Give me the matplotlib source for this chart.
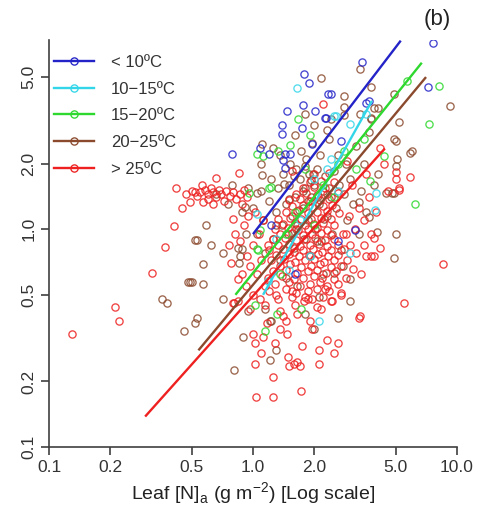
import matplotlib
matplotlib.use("Agg")
import matplotlib.pyplot as plt
from matplotlib.lines import Line2D
from matplotlib.ticker import FixedLocator, FixedFormatter, NullLocator

plt.rcParams['font.family'] = ['Liberation Sans', 'DejaVu Sans']

# ---------------- data ----------------
categories = ["< 10ºC", "10−15ºC", "15−20ºC", "20−25ºC", "> 25ºC"]
colors = ["#2323C8", "#33D6E8", "#2ED82E", "#8B4A2E", "#EE2020"]

blue_x = [3.42, 1.78, 1.88, 2.33, 2.40, 1.75, 1.46, 2.02, 2.25, 1.38, 1.38, 1.73, 3.70, 1.08, 1.20,
          0.79, 1.43, 1.52, 1.40, 1.43, 1.94, 2.70, 7.60, 7.20, 1.23, 3.15, 2.60, 2.27, 3.60, 1.60]
blue_y = [5.88, 5.18, 4.71, 4.19, 4.19, 3.73, 3.50, 3.50, 3.25, 3.00, 2.75, 2.92, 3.90, 2.37, 2.22,
          2.22, 2.22, 2.22, 2.08, 1.92, 2.47, 2.55, 7.20, 4.50, 1.05, 0.99, 0.88, 3.25, 3.80, 0.62]

cyan_x = [1.64, 2.50, 2.56, 3.00, 3.60, 3.00, 2.10, 3.95, 4.00, 2.00, 2.30, 1.70, 2.60, 1.90, 1.50,
          2.40, 1.30, 1.05, 1.18]
cyan_y = [4.45, 3.33, 3.33, 3.05, 3.40, 0.78, 0.38, 1.22, 1.47, 1.70, 1.90, 1.10, 1.50, 0.75, 0.65,
          2.10, 0.90, 1.18, 0.58]

green_x = [8.20, 7.30, 6.20, 5.70, 1.66, 1.05, 1.12, 1.52, 4.40, 3.75, 1.20, 1.22, 0.96, 1.08, 1.05,
           1.31, 1.14, 1.02, 1.06, 1.71, 1.33, 1.80, 2.20, 2.80, 3.20, 1.60, 2.00, 2.50, 3.50, 1.45,
           1.90, 2.60, 1.35]
green_y = [4.55, 3.05, 1.30, 4.80, 3.20, 2.22, 2.17, 2.45, 2.17, 1.67, 1.55, 1.57, 1.46, 0.99, 0.81,
           0.41, 0.34, 0.45, 0.80, 0.43, 2.30, 1.90, 1.60, 2.30, 1.90, 1.20, 1.05, 1.40, 2.60, 0.95,
           2.70, 2.00, 0.62]

brown_x = [0.36, 0.38, 0.48, 0.52, 0.46, 0.52, 0.53, 3.35, 2.15, 2.80, 3.80, 4.10, 4.90, 9.20, 5.20,
           4.90, 5.00, 6.00, 3.80, 4.10, 5.00, 4.90, 5.00, 4.05, 3.70, 3.30, 4.90, 5.90, 4.50, 4.80,
           2.80, 2.80, 3.90, 3.35, 3.80, 1.80, 1.11, 2.30, 0.79, 1.11, 1.05, 0.59, 0.53, 0.71, 0.88,
           0.91, 0.57, 0.57, 0.50, 0.71, 1.21, 0.89, 1.30, 1.15, 0.95, 0.81, 1.21, 0.49, 1.80, 2.10,
           3.00, 3.00, 2.60, 2.50, 2.00, 0.86, 0.84, 1.23, 5.10,
           1.00, 1.05, 1.10, 1.12, 1.15, 1.20, 1.22, 1.25, 1.30, 1.32, 1.35, 1.38, 1.40, 1.45, 1.48,
           1.50, 1.52, 1.55, 1.58, 1.60, 1.62, 1.65, 1.70, 1.72, 1.75, 1.78, 1.80, 1.82, 1.85, 1.88,
           1.90, 1.92, 1.95, 2.00, 2.02, 2.05, 2.10, 2.12, 2.15, 2.20, 2.25, 2.30, 2.35, 2.40, 2.45,
           2.50, 2.55, 2.60, 2.65, 2.70, 2.80, 2.85, 2.90, 3.00, 3.10, 3.20, 3.30, 3.40, 3.50, 3.60,
           3.70, 3.90, 1.35, 1.60, 2.00, 2.40, 1.25, 1.10, 0.95, 0.88, 0.92, 0.85, 1.45, 1.65, 2.20,
           2.75, 0.66, 0.75, 0.62,
           1.42, 1.58, 1.75, 1.92, 2.08, 1.30, 1.68, 1.86, 2.22, 1.50, 1.96, 2.36, 1.62, 1.80, 2.05]
brown_y = [0.48, 0.46, 0.57, 0.89, 0.34, 0.37, 0.39, 5.45, 4.95, 4.10, 4.50, 3.60, 4.20, 3.70, 3.10,
           2.60, 2.55, 2.30, 3.25, 1.80, 1.96, 1.46, 0.95, 0.97, 1.14, 1.33, 0.74, 2.25, 1.47, 1.47,
           3.65, 3.35, 3.60, 3.40, 3.20, 3.40, 2.47, 2.85, 1.60, 1.78, 1.46, 1.05, 0.89, 0.78, 0.81,
           1.26, 0.69, 0.56, 0.57, 0.48, 0.38, 0.32, 0.28, 0.43, 0.42, 0.225, 0.25, 0.57, 0.41, 0.49,
           0.47, 0.59, 0.39, 0.63, 0.35, 0.75, 0.82, 0.38, 2.10,
           1.25, 0.95, 1.50, 1.10, 0.78, 1.35, 1.70, 0.90, 1.20, 1.55, 0.72, 1.05, 1.80, 1.30, 0.95,
           1.60, 2.00, 1.15, 0.82, 1.40, 1.90, 1.05, 1.70, 2.30, 1.25, 0.90, 1.55, 2.10, 1.10, 1.80,
           0.75, 1.40, 2.50, 1.60, 1.00, 1.90, 1.30, 2.20, 0.88, 1.50, 1.75, 1.15, 2.60, 1.40, 0.95,
           1.85, 1.25, 2.20, 1.60, 0.80, 1.45, 2.00, 1.10, 1.70, 1.30, 2.40, 0.95, 1.50, 2.00, 1.20,
           2.80, 1.60, 2.20, 2.70, 3.00, 3.20, 2.35, 2.00, 1.55, 1.20, 0.95, 0.70, 0.60, 0.55, 0.62,
           0.68, 1.45, 1.30, 0.85,
           1.62, 1.75, 1.50, 1.68, 1.42, 1.05, 1.22, 1.35, 1.12, 1.38, 1.80, 1.55, 1.00, 1.95, 0.88]

red_x = [0.13, 0.21, 0.22, 0.32, 0.37, 0.41, 0.42, 0.49, 0.52,
         0.47, 0.50, 0.53, 0.55, 0.56, 0.58, 0.60, 0.60, 0.62, 0.64, 0.66, 0.68, 0.70, 0.72, 0.74,
         0.77, 0.80, 0.83, 0.86, 0.88, 0.90, 0.93, 0.64, 0.57, 0.45, 0.85, 0.66,
         0.82, 0.86, 0.90, 0.93, 0.95, 0.97, 1.00, 1.02, 1.05, 1.07, 1.10, 1.12, 1.15, 1.18, 0.88,
         0.78, 0.76, 0.80, 0.92, 1.00,
         1.32, 1.55, 1.78, 1.95, 2.20, 2.45,
         1.20, 1.45, 1.62, 1.85, 2.05, 2.35, 2.70,
         1.28, 1.50, 1.70, 1.90, 2.12, 2.30, 2.60,
         1.18, 1.38, 1.58, 1.75, 1.98, 2.18, 2.50, 2.85,
         1.25, 1.45, 1.65, 1.85, 2.05, 2.28, 2.55,
         1.35, 1.52, 1.72, 1.92, 2.12, 2.40, 2.70,
         1.22, 1.42, 1.60, 1.80, 2.00, 2.22, 2.50,
         1.30, 1.50, 1.68, 1.88, 2.08, 2.32, 2.62,
         1.20, 1.40, 1.58, 1.76, 1.96, 2.18, 2.42, 2.80,
         1.32, 1.50, 1.70, 1.90, 2.10, 2.30, 2.60,
         1.25, 1.44, 1.62, 1.82, 2.02, 2.25, 2.50,
         1.35, 1.55, 1.75, 1.95, 2.15, 2.40, 2.75,
         1.28, 1.48, 1.66, 1.86, 2.06, 2.30,
         1.40, 1.60, 1.80, 2.00, 2.20, 2.50,
         1.32, 1.52, 1.72, 1.92, 2.15, 2.40,
         1.45, 1.65, 1.85, 2.05, 2.30, 2.65,
         1.55, 1.75, 1.95, 2.20, 2.45,
         1.50, 1.70, 1.90, 2.12, 2.35,
         1.62, 1.82, 2.05, 2.30, 2.60,
         1.75, 1.98, 2.25,
         1.90, 2.15, 2.50,
         2.00, 2.35,
         2.85, 2.90, 2.95, 3.00, 3.05, 3.10, 3.15, 3.20, 3.30, 3.40, 3.50, 3.60, 3.70, 3.80, 4.00,
         4.20, 1.55, 2.90, 3.60, 4.40, 4.60, 5.00, 5.20,
         8.50, 5.50, 3.30, 3.35, 3.90, 3.50, 1.72, 1.04, 1.25, 1.25, 1.02, 2.10, 1.50, 1.58, 1.65,
         1.70, 1.48, 1.73, 1.10, 1.02, 1.12, 1.28, 1.46, 2.10, 2.30, 2.50, 2.60, 1.95, 1.00, 1.45,
         1.35, 1.17, 0.84, 0.84, 0.97, 0.81, 5.90, 5.00, 5.20, 3.90, 3.80, 4.20, 2.20, 0.80, 1.08,
         1.15, 1.35, 1.60, 1.85, 2.05, 2.40, 2.70, 1.40, 1.65, 1.90, 2.15, 1.30, 1.55, 1.80, 2.25]
red_y = [0.33, 0.44, 0.38, 0.63, 0.83, 1.04, 1.54, 1.34, 1.49,
         1.45, 1.50, 1.42, 1.48, 1.60, 1.52, 1.45, 1.38, 1.55, 1.48, 1.40, 1.52, 1.45, 1.35, 1.50,
         1.42, 1.48, 1.38, 1.45, 1.30, 1.52, 1.40, 1.30, 1.33, 1.25, 1.82, 1.72,
         0.95, 0.88, 1.05, 0.75, 1.15, 0.68, 0.85, 1.20, 0.62, 0.95, 0.72, 1.10, 0.55, 0.85, 0.62,
         0.70, 0.85, 1.12, 0.55, 0.50,
         0.48, 0.49, 0.47, 0.48, 0.49, 0.47,
         0.52, 0.53, 0.51, 0.52, 0.53, 0.52, 0.51,
         0.56, 0.57, 0.55, 0.56, 0.57, 0.55, 0.56,
         0.60, 0.61, 0.59, 0.60, 0.61, 0.60, 0.59, 0.60,
         0.64, 0.65, 0.63, 0.64, 0.65, 0.63, 0.64,
         0.68, 0.69, 0.67, 0.68, 0.69, 0.67, 0.68,
         0.72, 0.73, 0.71, 0.72, 0.73, 0.71, 0.72,
         0.76, 0.77, 0.75, 0.76, 0.77, 0.75, 0.76,
         0.80, 0.81, 0.79, 0.80, 0.81, 0.79, 0.80, 0.81,
         0.85, 0.86, 0.84, 0.85, 0.86, 0.84, 0.85,
         0.90, 0.91, 0.89, 0.90, 0.91, 0.89, 0.90,
         0.95, 0.96, 0.94, 0.95, 0.96, 0.94, 0.95,
         1.00, 1.01, 0.99, 1.00, 1.01, 0.99,
         1.06, 1.07, 1.05, 1.06, 1.07, 1.05,
         1.12, 1.13, 1.11, 1.12, 1.13, 1.11,
         1.20, 1.21, 1.19, 1.20, 1.21, 1.19,
         1.28, 1.29, 1.27, 1.28, 1.29,
         1.36, 1.37, 1.35, 1.36, 1.37,
         1.45, 1.46, 1.44, 1.45, 1.46,
         1.55, 1.56, 1.54,
         1.65, 1.66, 1.64,
         1.80, 1.82,
         0.95, 0.72, 1.15, 0.85, 1.60, 0.66, 1.00, 0.78, 1.25, 0.62, 1.10, 0.75, 1.40, 0.95, 1.20,
         0.82, 1.85, 2.05, 1.80, 2.00, 1.50, 1.70, 1.55,
         0.69, 0.46, 0.39, 0.40, 0.75, 0.85, 0.18, 0.17, 0.17, 0.21, 0.24, 0.24, 0.235, 0.24, 0.245,
         0.235, 0.26, 0.29, 0.27, 0.30, 0.32, 0.30, 0.33, 0.28, 0.31, 0.27, 0.30, 0.35, 0.33, 0.38,
         0.35, 0.37, 0.59, 0.47, 0.43, 0.46, 1.74, 1.84, 1.52, 0.91, 0.75, 2.35, 3.75, 0.46, 0.48,
         0.45, 0.42, 0.45, 0.48, 0.44, 0.47, 0.50, 0.40, 0.41, 0.38, 0.43, 0.50, 0.52, 0.49, 0.53]

# regression line end points per class
line_x = [[1.00, 5.30], [1.12, 3.83], [0.82, 6.72], [0.54, 7.05], [0.296, 4.43]]
line_y = [[0.95, 7.35], [0.50, 3.89], [0.50, 5.82], [0.278, 5.00], [0.138, 2.35]]

x_ticks = [0.1, 0.2, 0.5, 1.0, 2.0, 5.0, 10.0]
x_tick_labels = ["0.1", "0.2", "0.5", "1.0", "2.0", "5.0", "10.0"]
y_ticks = [0.1, 0.2, 0.5, 1.0, 2.0, 5.0]
y_tick_labels = ["0.1", "0.2", "0.5", "1.0", "2.0", "5.0"]

# ---------------- figure ----------------
fig = plt.figure(figsize=(4.81, 5.21), dpi=100)
ax = fig.add_axes([49/481, 1 - 447/521, (457-49)/481, (447-40)/521])
ax.set_xscale('log')
ax.set_yscale('log')
ax.set_xlim(0.1, 10)
ax.set_ylim(0.1, 7.4)

series = [(blue_x, blue_y), (cyan_x, cyan_y), (green_x, green_y), (brown_x, brown_y), (red_x, red_y)]
order = [3, 4, 2, 1, 0]
ms = 5.2
mew = 0.95
for i in order:
    xs, ys = series[i]
    ax.plot(xs, ys, linestyle='none', marker='o', markersize=ms, markerfacecolor='none',
            markeredgecolor=colors[i], markeredgewidth=mew, alpha=0.85, zorder=2)

for i in range(5):
    ax.plot(line_x[i], line_y[i], color=colors[i], linewidth=1.7, zorder=3, clip_on=False,
            solid_capstyle='butt')

axis_col = "#404040"
for s in ['top', 'right']:
    ax.spines[s].set_visible(False)
for s in ['left', 'bottom']:
    ax.spines[s].set_color(axis_col)
    ax.spines[s].set_linewidth(1.2)

ax.xaxis.set_major_locator(FixedLocator(x_ticks))
ax.xaxis.set_major_formatter(FixedFormatter(x_tick_labels))
ax.yaxis.set_major_locator(FixedLocator(y_ticks))
ax.yaxis.set_major_formatter(FixedFormatter(y_tick_labels))
ax.xaxis.set_minor_locator(NullLocator())
ax.yaxis.set_minor_locator(NullLocator())
ax.tick_params(axis='both', which='major', direction='out', length=6, width=1.2,
               color=axis_col, labelcolor="#333333", labelsize=12.5)
ax.tick_params(axis='x', pad=3)
ax.tick_params(axis='y', pad=3)
for lab in ax.get_yticklabels():
    lab.set_rotation(90)
    lab.set_va('center')

ax.set_xlabel(r"Leaf [N]$_\mathregular{a}$ (g m$^{\mathregular{-2}}$) [Log scale]",
              fontsize=14, color="#222222", labelpad=4)

fig.text(437/481, 1 - 20/521, "(b)", fontsize=16, color="#222222", ha='center', va='center')

handles = [Line2D([0], [0], color=colors[i], linewidth=1.7, marker='o', markersize=ms,
                  markerfacecolor='none', markeredgecolor=colors[i], markeredgewidth=mew)
           for i in range(5)]
leg = ax.legend(handles, categories, loc='upper left', bbox_to_anchor=(-0.012, 0.988),
                frameon=False, fontsize=12, handlelength=2.4, handletextpad=1.0,
                labelspacing=0.70, borderaxespad=0.2)
for t in leg.get_texts():
    t.set_color("#333333")

fig.savefig("out.png", dpi=100)
